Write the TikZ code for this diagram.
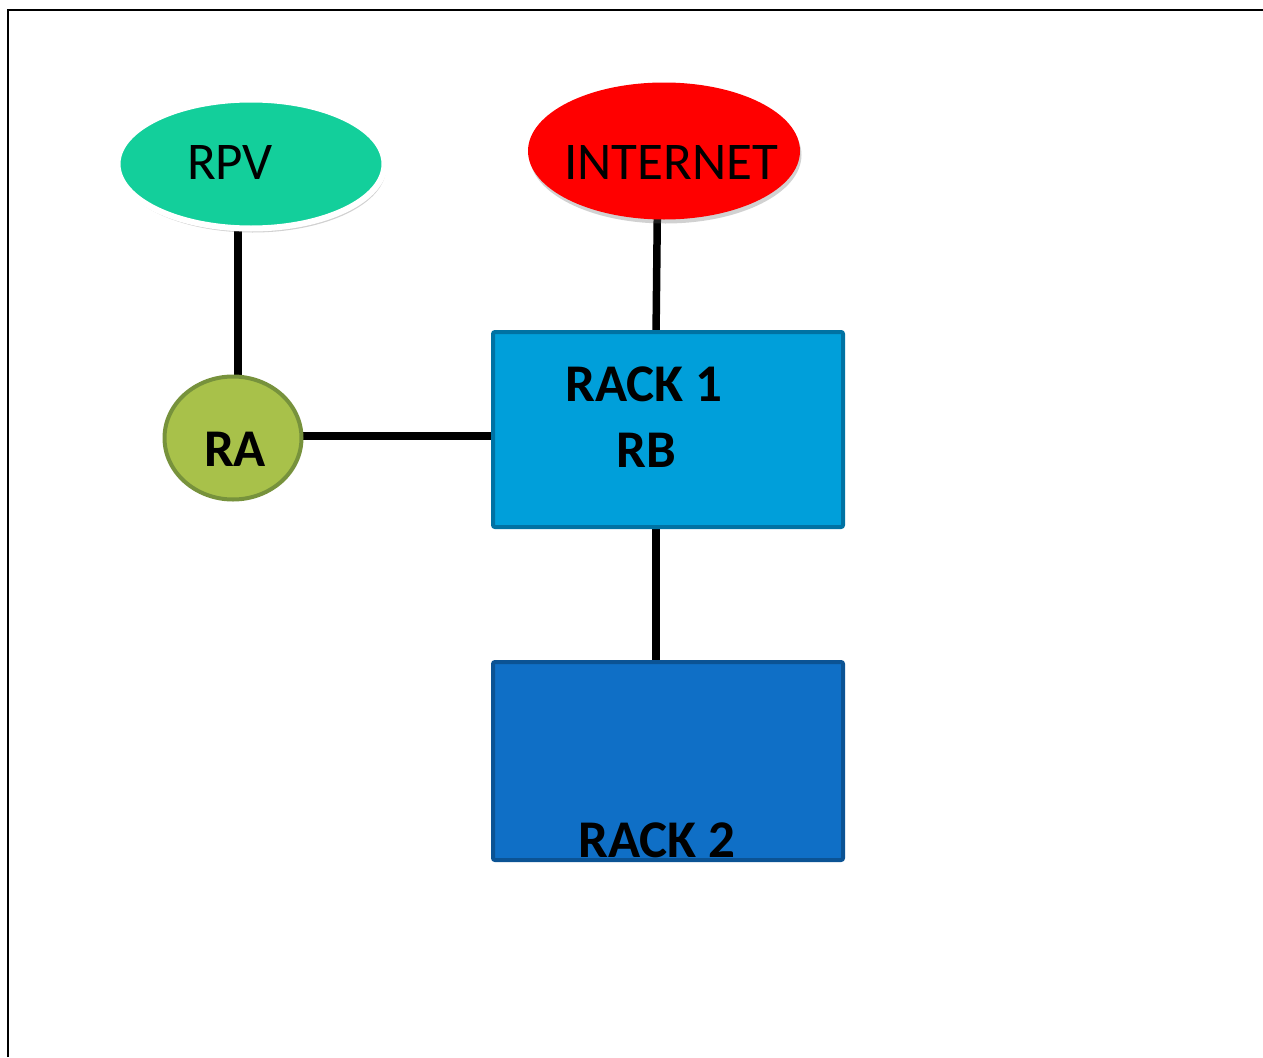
\documentclass[tikz,border=0pt]{standalone}
\usepackage{fontspec}
\setmainfont{Carlito}
\usetikzlibrary{shapes.geometric,shadows}
\definecolor{rpvc}{HTML}{13CF9B}
\definecolor{rac}{HTML}{A8C14A}
\definecolor{rab}{HTML}{77923C}
\definecolor{rk1}{HTML}{009FDA}
\definecolor{rk1b}{HTML}{0072A3}
\definecolor{rk2}{HTML}{0F6FC6}
\definecolor{rk2b}{HTML}{0B5394}
\pgfdeclarelayer{bg}
\pgfsetlayers{bg,main}
\tikzset{
  cloudy/.style={ellipse, inner sep=0pt, drop shadow={shadow xshift=1.5pt, shadow yshift=-4pt, opacity=0.3, fill=black!60}},
  rackbox/.style={rectangle, rounded corners=2pt, line width=4pt, inner sep=0pt, minimum width=350pt, minimum height=195pt},
  lbl/.style={inner sep=0pt, font=\fontsize{53}{60}\selectfont},
  lblb/.style={inner sep=0pt, font=\fontsize{53}{60}\selectfont\bfseries},
  conn/.style={line width=7.5pt, black},
}
\begin{document}
\begin{tikzpicture}[x=1pt,y=-1pt]
\useasboundingbox (0,0) rectangle (1263,1057);
\draw[line width=2.5pt] (8,1057) -- (8,10) -- (1263,10);

\node[cloudy, fill=rpvc, draw=white, line width=6pt, minimum width=267pt, minimum height=129pt] (rpv) at (251,164) {};
\node[lbl] (rpvt) at (230,162) {RPV};

\node[cloudy, fill=red, minimum width=272pt, minimum height=137pt] (inet) at (664,151) {};
\node[lbl] (inett) at (671,162) {INTERNET};

\node[ellipse, fill=rac, draw=rab, line width=4pt, inner sep=0pt, minimum width=137pt, minimum height=123pt] (ra) at (233,438) {};
\node[lblb] (rat) at (235,449) {RA};

\node[rackbox, fill=rk1, draw=rk1b] (rack1) at (668,429.5) {};
\node[lblb] (rack1t) at (644,384) {RACK 1};
\node[lblb] (rbt) at (646,450) {RB};

\node[rackbox, fill=rk2, draw=rk2b, minimum height=198pt] (rack2) at (668,761) {};
\node[lblb] (rack2t) at (657,840) {RACK 2};

\begin{pgfonlayer}{bg}
\draw[conn] ([xshift=5pt]ra.center) -- ([xshift=5pt]ra.center |- rpv.center);
\draw[conn] ([xshift=-6pt]inet.center) -- ([xshift=-13pt]rack1.center);
\draw[conn] ([yshift=2pt]ra.center) -- ([yshift=2pt]ra.center -| rack1.center);
\draw[conn] ([xshift=-12pt]rack1.center) -- ([xshift=-12pt]rack2.center);
\end{pgfonlayer}
\end{tikzpicture}
\end{document}
